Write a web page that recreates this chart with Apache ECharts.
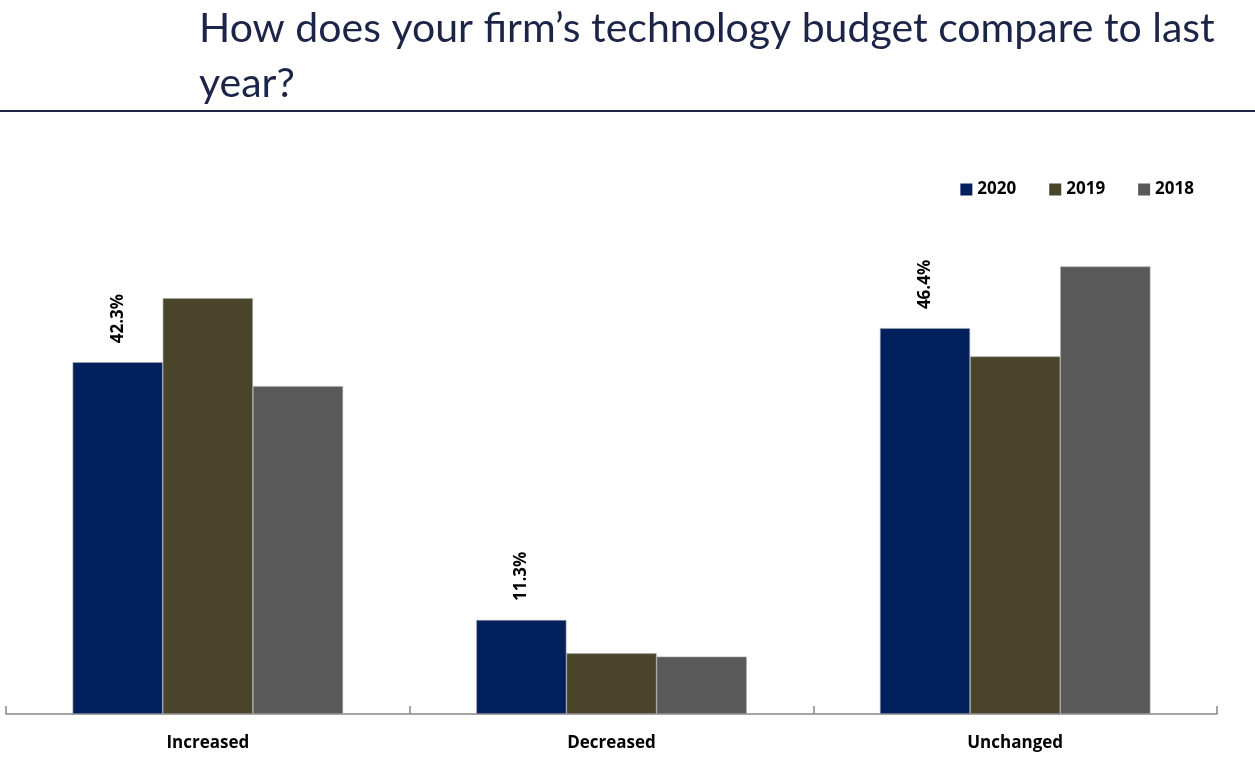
<!DOCTYPE html>
<html>
<head>
<meta charset="utf-8">
<script src="https://cdn.jsdelivr.net/npm/echarts@6/dist/echarts.min.js"></script>
<style>
  html, body { margin: 0; padding: 0; background: #fff; }
  #main { width: 1255px; height: 760px; }
</style>
</head>
<body>
<div id="main"></div>
<script>
const categories = ["Increased", "Decreased", "Unchanged"];
const years = ["2020", "2019", "2018"];
const values2020 = [42.3, 11.3, 46.4];
const values2019 = [50.0, 7.3, 43.0];
const values2018 = [39.4, 6.9, 53.8];
const colors = ["#02215c", "#4a452a", "#595959"];

const chart = echarts.init(document.getElementById("main"));

const labelStyle = {
    show: true,
    position: "top",
    rotate: 90,
    distance: 19,
    align: "left",
    verticalAlign: "middle",
    formatter: (p) => p.value.toFixed(1) + "%",
    color: "#000",
    fontFamily: "Open Sans",
    fontWeight: "bold",
    fontSize: 17,
};

const seriesData = [values2020, values2019, values2018];

chart.setOption({
    animation: false,
    title: {
        text: "How does your firm\u2019s technology budget compare to last\nyear?",
        left: 194,
        top: -4,
        textStyle: {
            fontFamily: "Lato",
            fontWeight: "normal",
            fontSize: 41,
            lineHeight: 55,
            color: "#1c2448",
        },
    },
    graphic: [{
        type: "line",
        shape: { x1: 0, y1: 111, x2: 1255, y2: 111 },
        style: { stroke: "#1c2448", lineWidth: 2 },
    }],
    legend: {
        data: years,
        right: 56,
        top: 176,
        itemWidth: 12,
        itemHeight: 12,
        itemGap: 33,
        icon: "rect",
        itemStyle: { borderWidth: 0 },
        textStyle: { fontFamily: "Open Sans", fontWeight: "bold", fontSize: 17, color: "#000" },
    },
    grid: { left: 6, right: 38, top: 215, bottom: 46, containLabel: false },
    xAxis: {
        type: "category",
        data: categories,
        axisLine: { lineStyle: { color: "#888", width: 1.5 } },
        axisTick: { show: true, inside: true, length: 8, lineStyle: { color: "#888", width: 1.5 } },
        axisLabel: {
            margin: 21,
            fontFamily: "Open Sans",
            fontWeight: "bold",
            fontSize: 17,
            color: "#000",
        },
    },
    yAxis: {
        type: "value",
        min: 0,
        max: 60,
        show: false,
        splitLine: { show: false },
    },
    series: years.map((y, i) => ({
        name: y,
        type: "bar",
        data: seriesData[i],
        barGap: "0%",
        barCategoryGap: "33%",
        itemStyle: { color: colors[i], borderColor: "#a6a6a6", borderWidth: 0.6 },
        label: i === 0 ? labelStyle : { show: false },
    })),
});
</script>
</body>
</html>
